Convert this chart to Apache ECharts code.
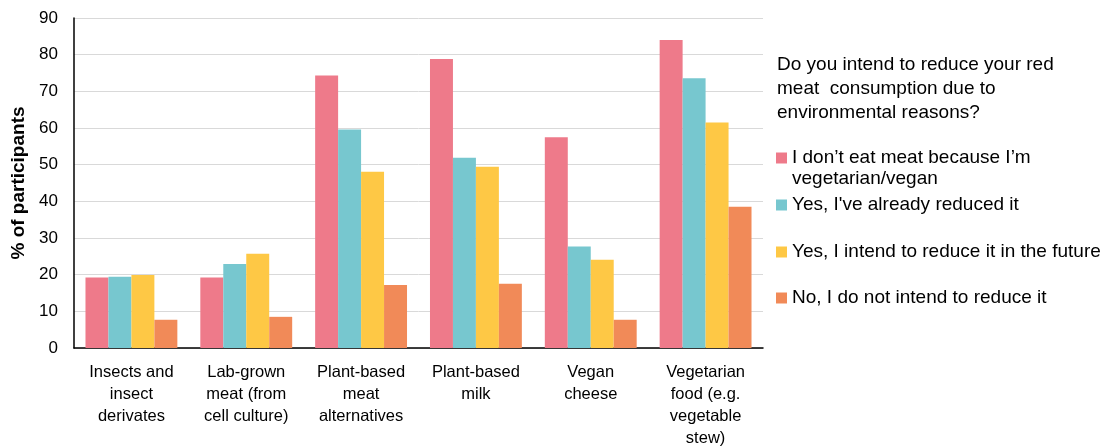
<!DOCTYPE html>
<html>
<head>
<meta charset="utf-8">
<script src="https://cdn.jsdelivr.net/npm/echarts@6/dist/echarts.min.js"></script>
<style>html,body{margin:0;padding:0;background:#fff}#c{width:1106px;height:448px}</style>
</head>
<body>
<div id="c"></div>
<script>
const categories = [
  "Insects and\ninsect\nderivates",
  "Lab-grown\nmeat (from\ncell culture)",
  "Plant-based\nmeat\nalternatives",
  "Plant-based\nmilk",
  "Vegan\ncheese",
  "Vegetarian\nfood (e.g.\nvegetable\nstew)"
];
const seriesNames = [
  "I don\u2019t eat meat because I\u2019m\nvegetarian/vegan",
  "Yes, I've already reduced it",
  "Yes, I intend to reduce it in the future",
  "No, I do not intend to reduce it"
];
const vegetarian = [19.2, 19.2, 74.3, 78.8, 57.5, 84.0];
const alreadyReduced = [19.4, 22.9, 59.6, 51.9, 27.7, 73.6];
const intendFuture = [19.9, 25.7, 48.1, 49.4, 24.1, 61.5];
const notIntend = [7.7, 8.5, 17.2, 17.5, 7.7, 38.5];
const legendTitle = "Do you intend to reduce your red\nmeat  consumption due to\nenvironmental reasons?";
const yAxisName = "% of participants";
const colors = ["#EE7A8A", "#77C7CF", "#FEC845", "#F18A58"];
const values = [vegetarian, alreadyReduced, intendFuture, notIntend];

const FONT = "'Liberation Sans', Arial, sans-serif";
const chart = echarts.init(document.getElementById('c'), null, {renderer: 'canvas'});

const legendTops = [147.5, 194.5, 241.5, 287.5];
const legends = seriesNames.map((n, i) => ({
  data: [n],
  orient: 'vertical',
  left: 776,
  top: legendTops[i],
  padding: 0,
  itemWidth: 11,
  itemHeight: i === 0 ? 42 : 11,
  icon: i === 0 ? 'path://M0,0M0,42M0,5h11v11h-11z' : 'rect',
  selectedMode: false,
  textStyle: {fontFamily: FONT, fontSize: 19, color: '#000', lineHeight: 21}
}));

chart.setOption({
  animation: false,
  color: colors,
  textStyle: {fontFamily: FONT},
  title: {
    text: legendTitle,
    left: 777,
    top: 53,
    padding: 0,
    textStyle: {fontFamily: FONT, fontSize: 19, fontWeight: 'normal', color: '#000', lineHeight: 24}
  },
  legend: legends,
  grid: {left: 74, right: 343, top: 18, bottom: 100, containLabel: false, outerBoundsMode: 'none'},
  xAxis: {
    type: 'category',
    data: categories,
    axisLine: {lineStyle: {color: '#000', width: 1.5}},
    axisTick: {show: false},
    axisLabel: {interval: 0, color: '#000', fontSize: 16.5, lineHeight: 22, margin: 13, fontFamily: FONT}
  },
  yAxis: {
    type: 'value',
    min: 0, max: 90, interval: 10,
    name: yAxisName,
    nameLocation: 'middle',
    nameGap: 46,
    nameTextStyle: {fontFamily: FONT, fontSize: 19, fontWeight: 'bold', color: '#000'},
    axisLine: {show: true, lineStyle: {color: '#000', width: 1.5}},
    axisTick: {show: false},
    axisLabel: {color: '#000', fontSize: 17, margin: 16, fontFamily: FONT},
    splitLine: {lineStyle: {color: '#d9d9d9', width: 1}}
  },
  series: seriesNames.map((n, i) => ({
    name: n,
    type: 'bar',
    data: values[i],
    barGap: '0%',
    barCategoryGap: '20%',
    itemStyle: {color: colors[i]}
  }))
});
</script>
</body>
</html>
